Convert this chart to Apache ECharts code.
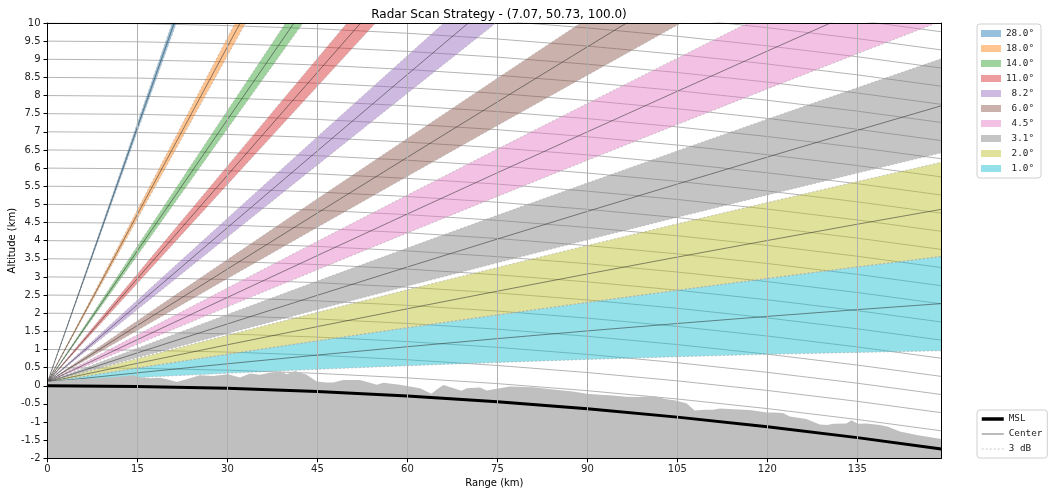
<!DOCTYPE html>
<html>
<head>
<meta charset="utf-8">
<script src="https://cdn.jsdelivr.net/npm/echarts@6/dist/echarts.min.js"></script>
<style>
html,body{margin:0;padding:0;background:#fff;}
#chart{width:1055px;height:496px;}
</style>
</head>
<body>
<div id="chart"></div>
<script>
// ---- Data ----
const rangeKm = [0, 15, 30, 45, 60, 75, 90, 105, 120, 135, 149];
const mslKm   = [0, -0.018, -0.071, -0.159, -0.283, -0.441, -0.636, -0.865, -1.130, -1.430, -1.742];
const altLevels = [0.5,1,1.5,2,2.5,3,3.5,4,4.5,5,5.5,6,6.5,7,7.5,8,8.5,9,9.5,10,10.5,11,11.5,12];

// beam edge / centre heights (km) at rangeKm positions
const ray0_5  = [0.1, 0.227, 0.344, 0.453, 0.553, 0.644, 0.726, 0.800, 0.865, 0.920, 0.965];
const ray1_0  = [0.1, 0.357, 0.606, 0.846, 1.076, 1.299, 1.512, 1.716, 1.912, 2.098, 2.264];
const ray1_5  = [0.1, 0.488, 0.868, 1.238, 1.600, 1.953, 2.297, 2.632, 2.958, 3.276, 3.564];
const ray2_0  = [0.1, 0.619, 1.129, 1.631, 2.123, 2.607, 3.082, 3.547, 4.004, 4.453, 4.863];
const ray2_5  = [0.1, 0.750, 1.391, 2.023, 2.646, 3.261, 3.866, 4.463, 5.050, 5.629, 6.161];
const ray2_6  = [0.1, 0.776, 1.443, 2.101, 2.751, 3.391, 4.023, 4.645, 5.259, 5.864, 6.420];
const ray3_1  = [0.1, 0.907, 1.705, 2.494, 3.274, 4.045, 4.807, 5.560, 6.304, 7.040, 7.718];
const ray3_6  = [0.1, 1.037, 1.966, 2.885, 3.796, 4.698, 5.590, 6.474, 7.349, 8.215, 9.015];
const ray4_0  = [0.1, 1.142, 2.175, 3.199, 4.214, 5.220, 6.217, 7.205, 8.184, 9.154, 10.052];
const ray4_5  = [0.1, 1.272, 2.436, 3.590, 4.736, 5.872, 7.000, 8.118, 9.227, 10.328];
const ray5_0  = [0.1, 1.403, 2.697, 3.981, 5.257, 6.524, 7.782, 9.030, 10.270];
const ray5_5  = [0.1, 1.533, 2.957, 4.372, 5.778, 7.175, 8.563, 9.942, 11.311];
const ray6_0  = [0.1, 1.663, 3.218, 4.763, 6.299, 7.826, 9.343, 10.852];
const ray6_5  = [0.1, 1.794, 3.478, 5.153, 6.819, 8.476, 10.123];
const ray7_7  = [0.1, 2.105, 4.101, 6.088, 8.065, 10.033];
const ray8_2  = [0.1, 2.235, 4.360, 6.476, 8.582, 10.679];
const ray8_7  = [0.1, 2.364, 4.619, 6.864, 9.100, 11.327];
const ray10_5 = [0.1, 2.829, 5.548, 8.257, 10.957];
const ray11_0 = [0.1, 2.957, 5.805, 8.642, 11.470];
const ray11_5 = [0.1, 3.086, 6.061, 9.027, 11.983];
const ray13_5 = [0.1, 3.597, 7.083, 10.559];
const ray14_0 = [0.1, 3.724, 7.337, 10.940];
const ray14_5 = [0.1, 3.851, 7.590, 11.320];
const ray17_5 = [0.1, 4.605, 9.099, 13.581];
const ray18_0 = [0.1, 4.730, 9.348, 13.955];
const ray18_5 = [0.1, 4.854, 9.596, 14.327];
const ray27_5 = [0.1, 7.019, 13.924];
const ray28_0 = [0.1, 7.135, 14.155];
const ray28_5 = [0.1, 7.250, 14.385];

const bandNames  = ['28.0°','18.0°','14.0°','11.0°',' 8.2°',' 6.0°',' 4.5°',' 3.1°',' 2.0°',' 1.0°'];
const bandColors = ['rgba(31,119,180,0.46)','rgba(255,127,14,0.46)','rgba(44,160,44,0.46)','rgba(214,39,40,0.46)',
                    'rgba(148,103,189,0.46)','rgba(140,86,75,0.46)','rgba(227,119,194,0.46)','rgba(127,127,127,0.46)',
                    'rgba(188,189,34,0.46)','rgba(23,190,207,0.46)'];
const bandLower  = [ray27_5, ray17_5, ray13_5, ray10_5, ray7_7, ray5_5, ray4_0, ray2_6, ray1_5, ray0_5];
const bandCenter = [ray28_0, ray18_0, ray14_0, ray11_0, ray8_2, ray6_0, ray4_5, ray3_1, ray2_0, ray1_0];
const bandUpper  = [ray28_5, ray18_5, ray14_5, ray11_5, ray8_7, ray6_5, ray5_0, ray3_6, ray2_5, ray1_5];

// terrain profile (km, plotted frame)
const terrainX = [0, 3.2, 8.75, 13.2, 14.3, 15.1, 17.1, 18.75, 20.4, 21.5, 23.2, 25.4, 27.6, 30.1, 32.1, 33.75, 35.4, 37.1, 38.75, 39.9, 41.25, 43.2, 44.9, 46.5, 47.6, 49.3, 52.1, 54.9, 56, 58.75, 60.4, 62.1, 64, 64.9, 66, 67.6, 69, 69.9, 72.1, 73.2, 74.9, 77.1, 81, 84.3, 87.6, 89.9, 92.1, 94.3, 96.5, 98.5, 101, 103.2, 104.5, 106.5, 107.9, 109.5, 111, 112.1, 114.3, 117.1, 119.9, 121, 122.6, 123.75, 126.5, 128.75, 130, 131, 133.2, 134, 135.1, 136.5, 138.75, 140, 142.1, 144.9, 149];
const terrainY = [0.11, 0.16, 0.21, 0.27, 0.29, 0.24, 0.21, 0.22, 0.16, 0.10, 0.18, 0.29, 0.27, 0.32, 0.23, 0.34, 0.30, 0.36, 0.39, 0.32, 0.41, 0.30, 0.12, 0.09, 0.09, 0.16, 0.16, 0.03, 0.085, 0.03, -0.02, -0.07, -0.22, -0.10, 0.02, -0.06, -0.14, -0.07, -0.05, -0.13, -0.08, -0.02, -0.04, -0.10, -0.16, -0.22, -0.25, -0.27, -0.30, -0.31, -0.28, -0.37, -0.40, -0.48, -0.68, -0.66, -0.66, -0.63, -0.65, -0.67, -0.74, -0.74, -0.75, -0.85, -0.92, -1.07, -1.08, -1.05, -1.04, -0.95, -1.05, -1.04, -1.08, -1.12, -1.26, -1.36, -1.47];

// ---- Build chart ----
const pairs = (ys) => ys.map((y, i) => [rangeKm[i], y]);
const series = [];

altLevels.forEach(lv => {
  series.push({
    type: 'line', silent: true, symbol: 'none', z: 1,
    data: mslKm.map((m, i) => [rangeKm[i], lv + m]),
    lineStyle: { color: '#b4b4b4', width: 1 }
  });
});

bandNames.forEach((name, b) => {
  const lo = bandLower[b], hi = bandUpper[b], col = bandColors[b];
  series.push({
    type: 'custom', name: name, silent: true, clip: true, z: 2,
    itemStyle: { color: col },
    data: [[0, 0]],
    renderItem: function (params, api) {
      const pts = [];
      for (let i = 0; i < lo.length; i++) pts.push(api.coord([rangeKm[i], lo[i]]));
      for (let i = hi.length - 1; i >= 0; i--) pts.push(api.coord([rangeKm[i], hi[i]]));
      return { type: 'polygon', shape: { points: pts }, style: { fill: col } };
    }
  });
});

bandNames.forEach((name, b) => {
  [bandLower[b], bandUpper[b]].forEach(edge => {
    series.push({
      type: 'line', name: '3 dB', silent: true, symbol: 'none', z: 3,
      data: pairs(edge),
      itemStyle: { color: '#a8a8a8' },
      lineStyle: { color: '#a8a8a8', width: 0.6, type: [2, 2] }
    });
  });
  series.push({
    type: 'line', name: 'Center', silent: true, symbol: 'none', z: 3,
    data: pairs(bandCenter[b]),
    itemStyle: { color: '#555' },
    lineStyle: { color: 'rgba(40,40,40,0.75)', width: 0.7 }
  });
});

series.push({
  type: 'line', name: 'terrain', silent: true, symbol: 'none', z: 4,
  data: terrainX.map((x, i) => [x, terrainY[i]]),
  lineStyle: { width: 0, color: '#bfbfbf' },
  areaStyle: { color: '#bfbfbf', opacity: 1, origin: 'start' }
});

series.push({
  type: 'line', name: 'MSL', silent: true, symbol: 'none', z: 5,
  data: pairs(mslKm),
  itemStyle: { color: '#000' },
  lineStyle: { color: '#000', width: 3 }
});

const chart = echarts.init(document.getElementById('chart'), null, { renderer: 'canvas' });
chart.setOption({
  animation: false,
  backgroundColor: '#fff',
  textStyle: { fontFamily: 'DejaVu Sans' },
  title: {
    text: 'Radar Scan Strategy - (7.07, 50.73, 100.0)',
    left: 494, top: 4, textAlign: 'center',
    textStyle: { fontSize: 12, fontWeight: 'normal', color: '#000', fontFamily: 'DejaVu Sans' }
  },
  grid: { left: 47.5, right: 113.7, top: 23, bottom: 37.7, containLabel: false, outerBoundsMode: 'none' },
  legend: [
    {
      data: bandNames, left: 977, top: 24, orient: 'vertical',
      icon: 'rect', itemWidth: 20, itemHeight: 7, itemGap: 2,
      padding: [3, 7, 3, 4],
      borderColor: '#d0d0d0', borderWidth: 1, borderRadius: 3,
      selectedMode: false,
      textStyle: { fontFamily: 'DejaVu Sans Mono', fontSize: 9.3, color: '#222', lineHeight: 13 }
    },
    {
      data: [
        { name: 'MSL', itemStyle: { opacity: 0 }, lineStyle: { color: '#000', width: 3.5 } },
        { name: 'Center', itemStyle: { opacity: 0 }, lineStyle: { color: '#777', width: 1 } },
        { name: '3 dB', itemStyle: { opacity: 0 }, lineStyle: { color: '#bdbdbd', width: 0.8, type: [2, 2] } }
      ],
      left: 977, top: 410, orient: 'vertical',
      itemWidth: 22, itemHeight: 10, itemGap: 3,
      padding: [3, 5, 3, 3],
      borderColor: '#d0d0d0', borderWidth: 1, borderRadius: 3,
      selectedMode: false,
      textStyle: { fontFamily: 'DejaVu Sans Mono', fontSize: 9.3, color: '#222', lineHeight: 12 }
    }
  ],
  xAxis: [{
    type: 'value', min: 0, max: 149, interval: 15, z: 10,
    name: 'Range (km)', nameLocation: 'middle', nameGap: 20, nameMoveOverlap: false,
    nameTextStyle: { fontSize: 10, color: '#000', fontFamily: 'DejaVu Sans' },
    axisLine: { show: true, onZero: false, lineStyle: { color: '#000', width: 1 } },
    axisTick: { show: true, inside: false, length: 4, lineStyle: { color: '#000' } },
    axisLabel: { margin: 6, fontSize: 10, color: '#222', showMaxLabel: false,
                 formatter: v => (v % 15 === 0 ? String(v) : '') },
    splitLine: { show: true, lineStyle: { color: '#b0b0b0', width: 1 } }
  }, {
    type: 'value', min: 0, max: 149, position: 'top', z: 10,
    axisLine: { show: true, onZero: false, lineStyle: { color: '#000', width: 1 } },
    axisTick: { show: false }, axisLabel: { show: false }, splitLine: { show: false }
  }],
  yAxis: [{
    type: 'value', min: -2, max: 10, interval: 0.5, z: 10,
    name: 'Altitude (km)', nameLocation: 'middle', nameGap: 30, nameMoveOverlap: false,
    nameTextStyle: { fontSize: 10, color: '#000', fontFamily: 'DejaVu Sans' },
    axisLine: { show: true, onZero: false, lineStyle: { color: '#000', width: 1 } },
    axisTick: { show: true, inside: false, length: 4, lineStyle: { color: '#000' } },
    axisLabel: { margin: 7, fontSize: 10, color: '#222' },
    splitLine: { show: false }
  }, {
    type: 'value', min: -2, max: 10, position: 'right', z: 10,
    axisLine: { show: true, onZero: false, lineStyle: { color: '#000', width: 1 } },
    axisTick: { show: false }, axisLabel: { show: false }, splitLine: { show: false }
  }],
  series: series
});
</script>
</body>
</html>
